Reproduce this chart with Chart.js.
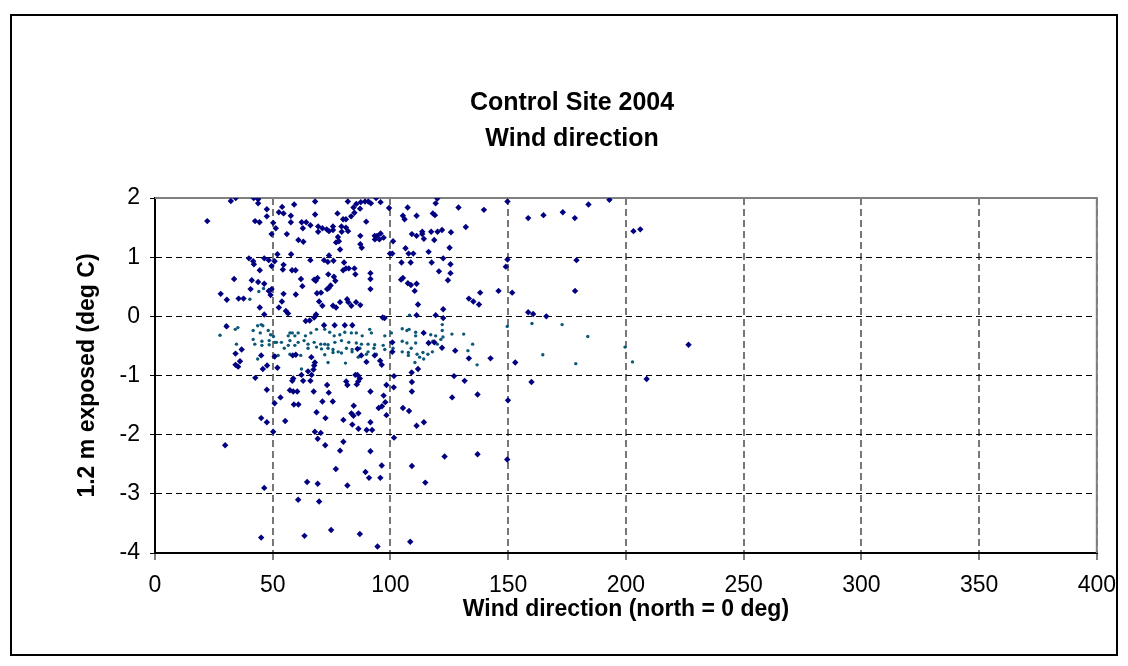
<!DOCTYPE html>
<html>
<head>
<meta charset="utf-8">
<title>Control Site 2004 - Wind direction</title>
<script src="https://cdn.jsdelivr.net/npm/chart.js@4.4.1/dist/chart.umd.min.js"></script>
<style>
    body { margin: 0; background: #fff; }
    #wrap { width: 1128px; height: 666px; }
</style>
</head>
<body>
<div id="wrap"><canvas id="grafico" width="1128" height="666"></canvas></div>
<script>
// Datos: direccion del viento (grados) y temperatura (deg C)
const dirNavy = [
    32.2, 34.3, 41.9, 43.8, 43.8, 47.5, 22.2, 47.5, 42.5, 44.4, 50.2, 51.3, 49.5, 52.6, 39.9, 41.7,
    42.0, 46.4, 48.3, 50.8, 49.5, 44.5, 33.6, 41.1, 43.8, 46.4, 40.6, 48.3, 49.5, 49.1, 27.9, 30.5,
    35.5, 37.6, 44.5, 52.6, 46.4, 30.4, 34.2, 36.8, 34.2, 36.1, 35.3, 45.1, 47.6, 45.8, 52.0, 50.8,
    54.0, 54.6, 59.1, 57.7, 57.7, 68.0, 68.0, 62.3, 64.2, 66.0, 62.8, 56.0, 60.9, 63.0, 69.3, 69.3,
    71.1, 72.9, 73.9, 75.6, 75.6, 77.5, 79.2, 79.9, 81.1, 79.3, 81.1, 82.0, 77.7, 78.1, 76.9, 78.6,
    81.9, 83.3, 84.3, 84.7, 85.5, 87.4, 87.1, 89.2, 90.6, 91.7, 93.9, 95.8, 89.7, 87.2, 87.2, 87.8,
    93.3, 94.3, 93.4, 95.8, 97.1, 95.3, 99.4, 101.1, 99.8, 100.8, 52.0, 57.8, 66.0, 71.8, 73.4, 73.9,
    75.8, 80.3, 54.6, 54.3, 58.2, 59.7, 81.1, 82.3, 79.9, 85.1, 84.7, 91.5, 91.5, 91.5, 73.6, 76.0,
    62.0, 69.0, 67.6, 68.3, 76.6, 74.6, 73.8, 73.1, 62.6, 68.8, 70.5, 54.6, 59.8, 53.9, 69.7, 71.1,
    75.6, 76.9, 78.6, 81.6, 82.1, 83.4, 85.4, 87.2, 55.6, 56.5, 64.0, 65.7, 67.6, 68.4, 96.7, 97.5,
    59.8, 66.4, 67.9, 67.6, 58.5, 71.8, 76.3, 80.6, 83.8, 86.0, 87.6, 89.8, 93.3, 95.6, 96.3, 100.8,
    100.8,
    107.3, 105.3, 106.0, 111.1, 119.9, 119.2, 118.0, 118.9, 128.9, 139.7, 149.7, 158.5, 109.1, 111.1,
    113.5, 113.5, 114.2, 117.3, 120.0, 121.9, 118.6, 125.7, 132.0, 125.1, 106.4, 107.7, 109.7, 116.2,
    104.7, 108.6, 117.5, 122.4, 125.5, 125.5, 120.6, 124.4, 149.7, 149.0, 105.3, 104.5, 107.4, 108.7,
    111.1, 110.3, 138.1, 145.9, 151.7, 133.3, 135.2, 137.6, 111.7, 122.4, 119.2, 111.1, 122.4, 158.5,
    114.1, 127.5, 133.3, 142.5, 153.0, 111.7, 109.0, 121.9, 118.6, 116.2,
    165.0, 173.2, 178.3, 184.1, 193.0, 203.2, 206.1, 179.0, 178.4, 160.6, 166.2, 226.6, 208.8, 159.9,
    42.6, 47.5, 50.8, 45.1, 47.5, 50.2, 29.8, 46.4, 45.1,
    62.2, 65.0, 66.5, 67.3, 58.7, 58.3, 62.9, 66.0, 85.1, 86.0, 87.0, 86.3, 85.7, 81.2, 81.7, 73.1,
    73.8, 67.4, 57.3, 58.7, 60.4, 53.3, 59.0, 60.9, 71.1, 75.5, 84.4, 91.5, 98.3, 101.5, 101.4, 97.1,
    97.8, 96.4, 95.0, 68.6, 83.4, 86.4, 84.3, 72.4, 80.0, 55.3, 91.5, 83.8, 86.4, 89.9, 92.2, 98.3,
    67.9, 70.4, 69.1, 72.3, 80.0, 101.5, 78.6, 91.5, 96.3, 76.8, 89.4, 90.9, 95.7, 64.6, 69.1, 81.7,
    60.8, 69.7, 74.8, 63.5, 87.0, 94.5,
    127.0, 131.5, 109.1, 109.1, 126.2, 137.0, 149.9, 105.3, 107.9, 111.1, 114.2, 123.0, 137.0, 149.6,
    109.1, 114.8, 108.4
];
const tempNavy = [
    1.95, 2.0, 2.0, 1.98, 1.91, 1.81, 1.61, 1.69, 1.61, 1.59, 1.58, 1.49, 1.39, 1.76, 0.98, 0.93,
    0.88, 0.98, 0.95, 0.93, 0.85, 0.78, 0.63, 0.61, 0.58, 0.55, 0.46, 0.43, 0.46, 0.36, 0.38, 0.28,
    0.30, 0.30, 0.15, 0.15, 0.03, -0.17, -0.82, -0.56, -0.63, -0.76, -0.85, -0.66, -0.83, -0.89, -0.87, -0.68,
    1.85, 1.74, 1.89, 1.70, 1.59, 1.94, 1.72, 1.59, 1.59, 1.54, 1.49, 1.39, 1.29, 1.26, 1.52, 1.43,
    1.49, 1.47, 1.44, 1.52, 1.46, 1.74, 1.52, 1.64, 1.64, 1.43, 1.50, 1.44, 1.34, 1.27, 1.25, 1.13,
    1.94, 1.69, 1.84, 1.75, 1.90, 1.93, 1.82, 1.94, 1.94, 1.91, 2.0, 1.93, 1.60, 1.36, 1.22, 1.16,
    1.36, 1.36, 1.30, 1.40, 1.33, 1.30, 1.83, 1.27, 1.06, 1.06, 1.05, 1.05, 0.95, 0.95, 0.92, 1.03,
    0.94, 0.91, 0.87, 0.79, 0.78, 0.78, 0.81, 0.81, 0.78, 0.71, 0.81, 0.73, 0.63, 0.46, 0.71, 0.67,
    0.63, 0.65, 0.62, 0.60, 0.60, 0.52, 0.48, 0.46, 0.51, 0.39, 0.40, 0.38, 0.37, 0.25, 0.25, 0.18,
    0.18, 0.15, 0.24, 0.29, 0.24, 0.18, 0.24, 0.19, 0.09, 0.05, -0.08, -0.07, -0.02, 0.03, -0.02, -0.03,
    -0.65, -0.69, -0.78, -0.83, -0.66, -0.15, -0.15, -0.15, -0.15, -0.55, -0.66, -0.77, -0.66, -0.75, -0.82, -0.44,
    -0.60,
    1.84, 1.70, 1.64, 1.70, 1.99, 1.91, 1.74, 1.71, 1.84, 1.80, 1.94, 1.66, 1.39, 1.36,
    1.43, 1.39, 1.31, 1.43, 1.43, 1.46, 1.29, 1.42, 1.51, 1.16, 1.15, 1.06, 1.06, 1.09,
    0.91, 0.91, 0.91, 0.98, 0.88, 0.73, 0.76, 0.61, 0.96, 0.84, 0.65, 0.62, 0.56, 0.53,
    0.55, 0.43, 0.40, 0.43, 0.40, 0.30, 0.25, 0.20, 0.20, 0.12, 0.02, 0.02, -0.03, 0.07,
    -0.28, -0.58, -0.71, -0.71, -0.78, -0.89, -0.95, -0.53, -0.44, -0.45,
    1.71, 1.76, 1.66, 1.89, 1.97, 1.44, 1.47, 0.95, 0.43, 0.04, 0.0, -0.48, -1.06, -1.11,
    -1.04, -1.24, -1.47, -1.72, -1.79, -1.95, -2.18, -2.90, -3.74,
    -0.99, -0.93, -0.99, -0.90, -1.05, -1.09, -1.09, -1.09, -0.99, -0.99, -1.05, -1.10, -1.15, -1.10, -1.16, -1.16,
    -1.29, -1.27, -1.25, -1.27, -1.27, -1.37, -1.49, -1.49, -1.44, -1.44, -1.51, -1.27, -1.16, -1.01, -1.20, -1.34,
    -1.45, -1.52, -1.55, -1.62, -1.64, -1.64, -1.68, -1.72, -1.75, -1.77, -1.79, -1.83, -1.90, -1.92, -1.92, -1.67,
    -1.95, -1.97, -2.07, -2.18, -2.12, -2.05, -2.27, -2.28, -2.52, -2.58, -2.63, -2.73, -2.73, -2.80, -2.83, -2.86,
    -3.10, -3.13, -3.61, -3.71, -3.68, -3.89,
    -1.01, -1.09, -1.11, -1.27, -1.37, -1.32, -1.42, -1.55, -1.60, -1.85, -1.79, -2.37, -2.33, -2.42,
    -2.53, -2.81, -3.81
];

const dirTeal = [
    46.1, 44.1, 40.3, 46.5, 30.2, 35.2, 34.1, 27.6, 43.6, 45.1, 45.8, 48.1, 49.1, 50.3, 41.7, 44.7,
    41.7, 42.4, 45.4, 45.4, 48.5, 48.5, 51.6, 34.6, 43.6, 51.0,
    57.3, 58.3, 56.6, 59.4, 60.8, 63.9, 66.2, 68.6, 72.1, 74.2, 76.1, 78.5, 80.6, 83.4, 85.5, 88.0,
    91.2, 91.9, 97.6, 100.4, 50.9, 53.7, 57.3, 60.8, 63.3, 65.0, 67.6, 70.4, 72.1, 73.5, 76.4, 79.2,
    82.3, 85.5, 87.7, 90.5, 93.3, 96.9, 100.4, 56.6, 59.4, 54.9, 65.0, 68.6, 70.7, 73.5, 75.6, 77.8,
    81.3, 83.7, 87.0, 90.5, 93.0, 97.6, 101.1, 52.3, 57.3, 61.9, 72.1, 75.6, 79.2, 83.7, 89.8, 94.0,
    86.3, 73.5, 80.9, 67.9, 62.2,
    108.1, 122.0, 122.0, 105.0, 107.0, 107.9, 110.7, 110.7, 117.1, 119.2, 126.1, 131.1, 121.4, 122.3,
    105.0, 107.0, 110.7, 118.0, 119.9, 134.9, 105.0, 107.6, 107.6, 108.8, 111.3, 113.8, 117.8, 115.9,
    114.1, 132.9, 136.8, 149.6, 110.4, 112.4,
    160.1, 172.9, 183.8, 199.6, 164.7, 178.7, 202.8
];
const tempTeal = [
    0.47, 0.42, 0.29, 0.03, -0.15, -0.19, -0.22, -0.32, -0.16, -0.14, -0.16, -0.24, -0.31, -0.34, -0.24, -0.28,
    -0.39, -0.47, -0.42, -0.49, -0.41, -0.48, -0.44, -0.47, -0.72, -0.66,
    -0.28, -0.28, -0.33, -0.33, -0.28, -0.33, -0.28, -0.22, -0.22, -0.27, -0.33, -0.31, -0.27, -0.28, -0.28, -0.33,
    -0.22, -0.28, -0.33, -0.28, -0.44, -0.44, -0.41, -0.44, -0.41, -0.47, -0.44, -0.47, -0.47, -0.48, -0.44, -0.41,
    -0.44, -0.45, -0.47, -0.47, -0.48, -0.49, -0.44, -0.49, -0.49, -0.54, -0.54, -0.52, -0.55, -0.54, -0.56, -0.60,
    -0.54, -0.56, -0.54, -0.60, -0.54, -0.56, -0.54, -0.66, -0.64, -0.66, -0.65, -0.61, -0.62, -0.60, -0.64, -0.64,
    -0.69, -0.78, -0.79, -0.78, -0.89,
    0.02, -0.14, -0.24, -0.21, -0.24, -0.22, -0.27, -0.33, -0.31, -0.33, -0.30, -0.30, -0.39, -0.35,
    -0.42, -0.45, -0.45, -0.42, -0.47, -0.47, -0.60, -0.61, -0.66, -0.54, -0.64, -0.61, -0.60, -0.64,
    -0.72, -0.58, -0.82, -0.17, -0.78, -0.69,
    -0.12, -0.14, -0.34, -0.52, -0.65, -0.80, -0.77
];

// Marcas de los ejes
const xMin = 0, xMax = 400, xStep = 50;
const yMin = -4, yMax = 2, yStep = 1;

function puntos(xs, ys) {
    return xs.map(function (x, i) { return { x: x, y: ys[i] }; });
}

const fuente = 'Liberation Sans, Arial, sans-serif';

// Borde exterior del grafico y borde gris del area de trazado
const bordes = {
    id: 'bordes',
    beforeDatasetsDraw(chart) {
        const a = chart.chartArea;
        const ctx = chart.ctx;
        ctx.save();
        ctx.strokeStyle = '#808080';
        ctx.lineWidth = 2;
        ctx.beginPath();
        ctx.moveTo(a.left, a.top);
        ctx.lineTo(a.right, a.top);
        ctx.lineTo(a.right, a.bottom);
        ctx.stroke();
        ctx.restore();
    },
    afterDraw(chart) {
        const ctx = chart.ctx;
        ctx.save();
        ctx.strokeStyle = '#000';
        ctx.lineWidth = 2;
        ctx.strokeRect(11, 15, 1106, 640);
        ctx.restore();
    }
};

new Chart(document.getElementById('grafico'), {
    type: 'scatter',
    data: {
        datasets: [
            {
                label: 'Serie 1',
                data: puntos(dirNavy, tempNavy),
                pointStyle: 'rectRot',
                pointRadius: 3.2,
                pointBorderWidth: 0,
                backgroundColor: '#000080',
                borderColor: '#000080'
            },
            {
                label: 'Serie 2',
                data: puntos(dirTeal, tempTeal),
                pointStyle: 'circle',
                pointRadius: 1.7,
                pointBorderWidth: 0,
                backgroundColor: '#0c5878',
                borderColor: '#0c5878'
            }
        ]
    },
    options: {
        responsive: false,
        devicePixelRatio: 1,
        animation: false,
        layout: { padding: { left: 45, right: 29, top: 0, bottom: 0 } },
        plugins: {
            legend: { display: false },
            tooltip: { enabled: false },
            title: {
                display: true,
                text: ['Control Site 2004', 'Wind direction'],
                color: '#000',
                font: { family: fuente, size: 25, weight: 'bold', lineHeight: 36 / 25 },
                padding: { top: 85, bottom: 41 }
            }
        },
        scales: {
            x: {
                type: 'linear',
                min: xMin,
                max: xMax,
                afterFit: function (scale) { scale.height = 113; },
                ticks: {
                    stepSize: xStep,
                    color: '#000',
                    padding: 12,
                    font: { family: fuente, size: 23 }
                },
                grid: {
                    color: '#777',
                    lineWidth: 2,
                    tickLength: 7,
                    tickColor: '#000',
                    tickWidth: 1
                },
                border: { display: true, color: '#000', width: 2, dash: [7, 4] },
                title: {
                    display: true,
                    text: 'Wind direction (north = 0 deg)',
                    color: '#000',
                    font: { family: fuente, size: 23, weight: 'bold' },
                    padding: { top: 0, bottom: 43 }
                }
            },
            y: {
                type: 'linear',
                min: yMin,
                max: yMax,
                afterFit: function (scale) { scale.width = 110; },
                ticks: {
                    stepSize: yStep,
                    color: '#000',
                    padding: 10,
                    font: { family: fuente, size: 23 }
                },
                grid: {
                    color: '#000',
                    lineWidth: 1,
                    tickLength: 5,
                    tickColor: '#000'
                },
                border: { display: true, color: '#000', width: 2, dash: [6, 4] },
                title: {
                    display: true,
                    text: '1.2 m exposed (deg C)',
                    color: '#000',
                    font: { family: fuente, size: 23, weight: 'bold' },
                    padding: { top: 29, bottom: 0 }
                }
            }
        }
    },
    plugins: [bordes]
});
</script>
</body>
</html>
